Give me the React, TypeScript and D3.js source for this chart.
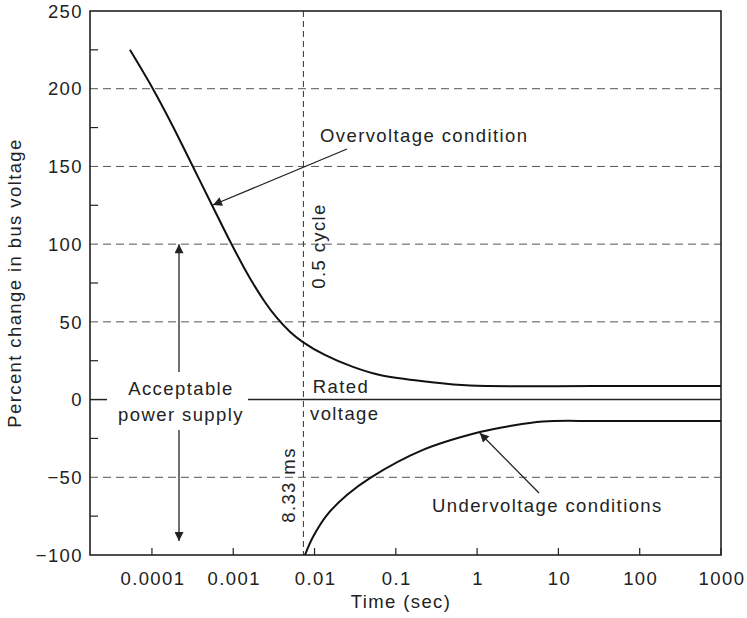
import { useRef, useEffect } from "react";
import * as d3 from "d3";

// curves: time (s) vs percent change
const overTime = [5.36e-5, 1.03e-4, 1.76e-4, 3.1e-4, 5.47e-4, 9.1e-4, 1.6e-3, 2.45e-3, 3.45e-3, 4.98e-3, 7.2e-3, 0.0134, 0.0297, 0.0637, 0.262, 0.815, 30, 1000];
const overValue = [225, 199.8, 177, 151.2, 125.2, 102, 78.2, 62.8, 52.5, 43.7, 37, 28.7, 21, 15.8, 11.3, 9, 8.7, 8.7];

const underTime = [7.63e-3, 9.56e-3, 0.0142, 0.025, 0.048, 0.2155, 1.08, 2.53, 6.44, 32.4, 1000];
const underValue = [-100, -88.4, -74.3, -61.4, -50.5, -32.4, -20.9, -17, -14.1, -13.8, -13.8];

const xTicks = [0.0001, 0.001, 0.01, 0.1, 1, 10, 100, 1000];
const xTickLabels = ["0.0001", "0.001", "0.01", "0.1", "1", "10", "100", "1000"];
const yTicks = [-100, -50, 0, 50, 100, 150, 200, 250];
const yMinorTicks = [-75, -25, 25, 75, 125, 175, 225];
const yGrid = [-50, 50, 100, 150, 200];

const halfCycle = 0.0073;

export default function App() {
  const svgRef = useRef<SVGSVGElement>(null);

  useEffect(() => {
    document.body.style.margin = "0";
    if (!svgRef.current) return;

    const width = 747;
    const height = 618;
    const margin = { top: 11, right: 26, bottom: 63, left: 90 };
    const font = "'Liberation Sans', Arial, Helvetica, sans-serif";
    const fs = 18.5;
    const ls = 1.4;
    const ink = "#222";

    const svg = d3.select(svgRef.current);
    svg.selectAll("*").remove();
    svg.attr("width", width).attr("height", height).attr("viewBox", `0 0 ${width} ${height}`);

    const x = d3
      .scaleLog()
      .domain([1.73e-5, 1000])
      .range([margin.left, width - margin.right]);
    const y = d3
      .scaleLinear()
      .domain([-100, 250])
      .range([height - margin.bottom, margin.top]);

    const x0 = margin.left;
    const x1 = width - margin.right;
    const y0 = height - margin.bottom;
    const y1 = margin.top;

    const defs = svg.append("defs");
    defs
      .append("marker")
      .attr("id", "head")
      .attr("viewBox", "0 0 10 10")
      .attr("refX", 10)
      .attr("refY", 5)
      .attr("markerWidth", 11)
      .attr("markerHeight", 9)
      .attr("markerUnits", "userSpaceOnUse")
      .attr("orient", "auto")
      .append("path")
      .attr("d", "M0,0 L10,5 L0,10 Z")
      .attr("fill", ink);

    // dashed grid
    svg
      .append("g")
      .selectAll("line")
      .data(yGrid)
      .join("line")
      .attr("x1", x0)
      .attr("x2", x1)
      .attr("y1", (d) => y(d))
      .attr("y2", (d) => y(d))
      .attr("stroke", "#555")
      .attr("stroke-width", 1)
      .attr("stroke-dasharray", "8 5");

    // 8.33 ms / half cycle line
    svg
      .append("line")
      .attr("x1", x(halfCycle))
      .attr("x2", x(halfCycle))
      .attr("y1", y1)
      .attr("y2", y0)
      .attr("stroke", "#333")
      .attr("stroke-width", 1)
      .attr("stroke-dasharray", "6 4");

    // rated voltage line (broken for the label on the left)
    svg
      .append("line")
      .attr("x1", x0)
      .attr("x2", x0 + 17)
      .attr("y1", y(0))
      .attr("y2", y(0))
      .attr("stroke", ink)
      .attr("stroke-width", 1.5);
    svg
      .append("line")
      .attr("x1", 248)
      .attr("x2", x1)
      .attr("y1", y(0))
      .attr("y2", y(0))
      .attr("stroke", ink)
      .attr("stroke-width", 1.5);

    // frame
    svg
      .append("rect")
      .attr("x", x0)
      .attr("y", y1)
      .attr("width", x1 - x0)
      .attr("height", y0 - y1)
      .attr("fill", "none")
      .attr("stroke", ink)
      .attr("stroke-width", 1.6);

    // ticks
    svg
      .append("g")
      .selectAll("line")
      .data(yMinorTicks)
      .join("line")
      .attr("x1", x0)
      .attr("x2", x0 + 8)
      .attr("y1", (d) => y(d))
      .attr("y2", (d) => y(d))
      .attr("stroke", ink)
      .attr("stroke-width", 1.2);

    svg
      .append("g")
      .selectAll("line")
      .data(xTicks)
      .join("line")
      .attr("x1", (d) => x(d))
      .attr("x2", (d) => x(d))
      .attr("y1", y0)
      .attr("y2", y0 - 7)
      .attr("stroke", ink)
      .attr("stroke-width", 1.2);

    const label = (g: d3.Selection<any, any, any, any>) =>
      g
        .attr("font-family", font)
        .attr("font-size", fs)
        .attr("letter-spacing", ls)
        .attr("fill", ink);

    svg
      .append("g")
      .call(label)
      .attr("text-anchor", "end")
      .selectAll("text")
      .data(yTicks)
      .join("text")
      .attr("x", 83)
      .attr("y", (d) => y(d))
      .attr("dy", "0.36em")
      .text((d) => (d < 0 ? `\u2212${Math.abs(d)}` : `${d}`));

    svg
      .append("g")
      .call(label)
      .attr("text-anchor", "middle")
      .selectAll("text")
      .data(xTicks)
      .join("text")
      .attr("x", (d) => x(d) + 1)
      .attr("y", 585)
      .text((d, i) => xTickLabels[i]);

    svg
      .append("text")
      .call(label)
      .attr("text-anchor", "middle")
      .attr("x", 401)
      .attr("y", 608)
      .text("Time (sec)");

    svg
      .append("text")
      .call(label)
      .attr("text-anchor", "middle")
      .attr("transform", `translate(21, 283) rotate(-90)`)
      .text("Percent change in bus voltage");

    // curves
    const path = d3.line().curve(d3.curveCatmullRom.alpha(0.5));
    const overPts = overTime.map((t, i) => [x(t), y(overValue[i])] as [number, number]);
    const underPts = underTime.map((t, i) => [x(t), y(underValue[i])] as [number, number]);

    [overPts, underPts].forEach((pts) =>
      svg
        .append("path")
        .attr("d", path(pts))
        .attr("fill", "none")
        .attr("stroke", "#111")
        .attr("stroke-width", 2)
    );

    // annotations
    const arrow = (xa: number, ya: number, xb: number, yb: number) =>
      svg
        .append("line")
        .attr("x1", xa)
        .attr("y1", ya)
        .attr("x2", xb)
        .attr("y2", yb)
        .attr("stroke", ink)
        .attr("stroke-width", 1.3)
        .attr("marker-end", "url(#head)");

    arrow(347, 149, x(5.47e-4) + 1, y(125.2));
    arrow(539, 493, x(1.08), y(-20.9) + 1);
    arrow(179, 372, 179, y(100));
    arrow(179, 430, 179, y(-91));

    const note = (tx: number, ty: number, s: string, anchor = "start", rot = 0) =>
      svg
        .append("text")
        .call(label)
        .attr("text-anchor", anchor)
        .attr("transform", `translate(${tx}, ${ty}) rotate(${rot})`)
        .text(s);

    note(320, 142, "Overvoltage condition");
    note(325, 246, "0.5 cycle", "middle", -90);
    note(295, 485, "8.33 ms", "middle", -90);
    note(341, 393, "Rated", "middle");
    note(310, 420, "voltage");
    note(181, 395, "Acceptable", "middle");
    note(181, 421, "power supply", "middle");
    note(432, 512, "Undervoltage conditions");
  }, []);

  return <svg ref={svgRef} style={{ display: "block", background: "#fff" }} />;
}
